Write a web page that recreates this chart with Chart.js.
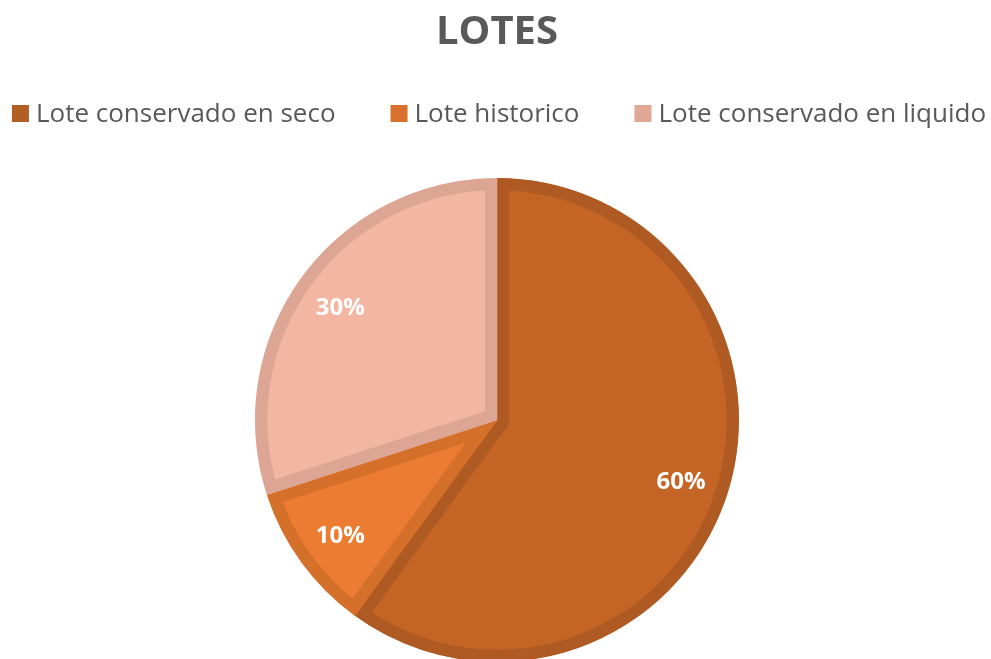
<!DOCTYPE html>
<html>
<head>
<meta charset="utf-8">
<script src="https://cdn.jsdelivr.net/npm/chart.js@4.4.0/dist/chart.umd.min.js"></script>
<style>
  html, body { margin: 0; padding: 0; background: #fff; overflow: hidden; }
  #wrap { position: absolute; left: 0; top: 0; width: 991px; height: 662px; }
</style>
</head>
<body>
<div id="wrap"><canvas id="myChart" width="991" height="662"></canvas></div>
<script>
// Datos del grafico
const categorias = ["Lote conservado en seco", "Lote historico", "Lote conservado en liquido"];
const valores = [60, 10, 30];
const coloresRelleno = ["#C46526", "#EC7C31", "#F3B6A3"];
const coloresBorde = ["#AE5A22", "#D5702B", "#DDA594"];
const coloresLeyenda = ["#B35E22", "#D8712B", "#E0A794"];

const textColor = "#595959";

// Leyenda dibujada en la franja entre el titulo y la tarta
const legendFont = "26px 'Open Sans'";
const boxSize = 17;
const boxGap = 7;
const itemGap = 55;
const boxTop = 105;
const textBase = 122;
const legendCenter = 499;

const legendRow = {
    id: "legendRow",
    afterDraw(chart) {
        const ctx = chart.ctx;
        ctx.save();
        ctx.font = legendFont;
        ctx.textBaseline = "alphabetic";
        ctx.textAlign = "left";
        const widths = categorias.map(c => ctx.measureText(c).width);
        const total = widths.reduce((s, w) => s + boxSize + boxGap + w, 0) + itemGap * (categorias.length - 1);
        let x = legendCenter - total / 2;
        categorias.forEach((c, i) => {
            ctx.fillStyle = coloresLeyenda[i];
            ctx.fillRect(x, boxTop, boxSize, boxSize);
            ctx.fillStyle = textColor;
            ctx.fillText(c, x + boxSize + boxGap, textBase);
            x += boxSize + boxGap + widths[i] + itemGap;
        });
        ctx.restore();
    }
};

// Porcentajes dentro de cada porcion
const sliceLabels = {
    id: "sliceLabels",
    afterDatasetsDraw(chart) {
        const ctx = chart.ctx;
        const meta = chart.getDatasetMeta(0);
        const total = valores.reduce((a, b) => a + b, 0);
        ctx.save();
        ctx.fillStyle = "#ffffff";
        ctx.font = "bold 24px 'Open Sans'";
        ctx.textAlign = "center";
        ctx.textBaseline = "alphabetic";
        meta.data.forEach((arc, i) => {
            const p = arc.getProps(["x", "y", "startAngle", "endAngle", "outerRadius"], true);
            const mid = (p.startAngle + p.endAngle) / 2;
            const r = p.outerRadius * 0.8;
            const pct = Math.round(valores[i] / total * 100) + "%";
            ctx.fillText(pct, p.x + Math.cos(mid) * r, p.y + Math.sin(mid) * r + 9);
        });
        ctx.restore();
    }
};

const ctx = document.getElementById("myChart").getContext("2d");
new Chart(ctx, {
    type: "pie",
    data: {
        labels: categorias,
        datasets: [{
            data: valores,
            backgroundColor: coloresRelleno,
            borderColor: coloresBorde,
            borderWidth: 12,
            borderAlign: "inner",
            hoverOffset: 0,
            offset: 0
        }]
    },
    options: {
        responsive: false,
        animation: false,
        events: [],
        layout: { padding: { left: 3 } },
        plugins: {
            tooltip: { enabled: false },
            legend: { display: false },
            title: {
                display: true,
                text: "LOTES",
                color: textColor,
                font: { family: "'Open Sans'", size: 40, weight: "bold", lineHeight: 1 },
                padding: { top: 13, bottom: 125 }
            }
        }
    },
    plugins: [legendRow, sliceLabels]
});
</script>
</body>
</html>
